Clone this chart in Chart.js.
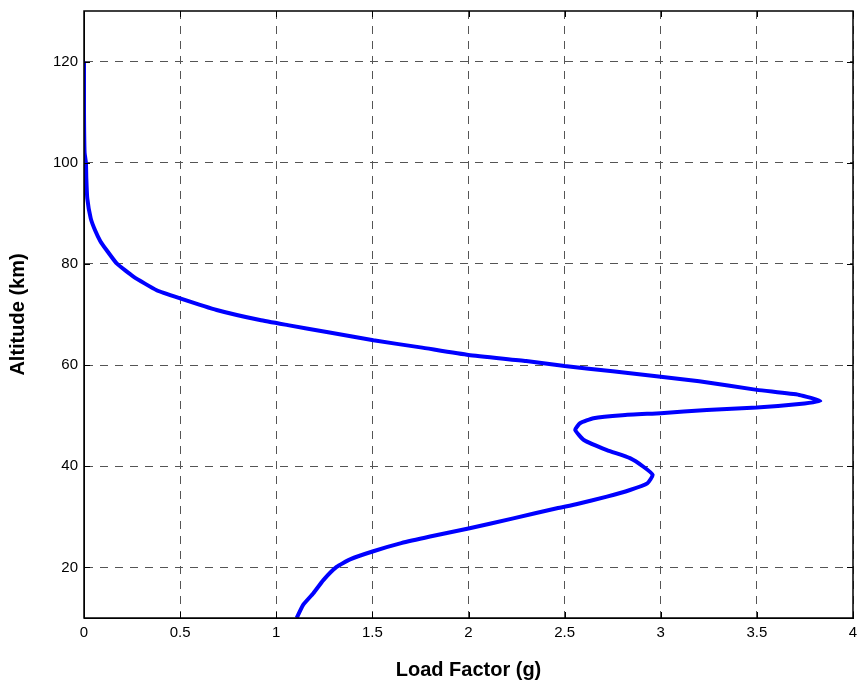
<!DOCTYPE html>
<html>
<head>
<meta charset="utf-8">
<script src="https://cdn.jsdelivr.net/npm/chart.js@4"></script>
<style>
  html, body { margin: 0; padding: 0; background: #fff; }
  #wrap { width: 861px; height: 686px; position: relative; }
</style>
</head>
<body>
<div id="wrap"><canvas id="myChart" width="861" height="686"></canvas></div>
<script>
// altitude profile (km) and matching load factor (g)
var altitude = [120, 110, 102, 100, 97, 93, 89, 86.7, 84.5, 82.7, 80.1, 77.5, 74.8, 73.2, 70.9, 68.9, 67.9, 66.5, 64.9, 63.5,
  62.0, 60.8, 59.8, 58.8, 57.7, 56.8, 55.1, 54.1, 52.9, 52.3, 51.6, 51.1, 50.5, 50.1, 49.5, 48.5, 47.2, 45.2, 43.2, 41.6,
  39.9, 38.3, 36.6, 35.3, 34.0, 32.5, 31.7, 29.7, 27.7, 26.1, 24.8, 23.2, 21.6, 20.1, 17.5, 14.9, 12.6, 10];
var loadFactor = [0, 0, 0.003, 0.01, 0.012, 0.017, 0.035, 0.057, 0.085, 0.118, 0.17, 0.257, 0.378, 0.5, 0.69, 0.915, 1.06, 1.27, 1.505, 1.75,
  2.0, 2.3, 2.5, 2.75, 3.0, 3.2, 3.5, 3.72, 3.83, 3.72, 3.5, 3.24, 3.0, 2.8, 2.65, 2.58, 2.555, 2.6, 2.72, 2.84,
  2.91, 2.958, 2.93, 2.84, 2.72, 2.56, 2.46, 2.233, 2.0, 1.8, 1.65, 1.505, 1.384, 1.314, 1.245, 1.193, 1.14, 1.106];
var xTicks = [0, 0.5, 1, 1.5, 2, 2.5, 3, 3.5, 4];
var yTicks = [20, 40, 60, 80, 100, 120];

var points = [];
for (var i = 0; i < altitude.length; i++) {
  points.push({x: loadFactor[i], y: altitude[i]});
}

// box round the plot plus small inward ticks, like the matlab axes
var boxPlugin = {
  id: 'box',
  afterDraw: function(chart) {
    var ctx = chart.ctx, a = chart.chartArea;
    var xs = chart.scales.x, ys = chart.scales.y;
    ctx.save();
    ctx.strokeStyle = '#000';
    ctx.lineWidth = 1.5;
    ctx.setLineDash([]);
    ctx.strokeRect(a.left, a.top, a.right - a.left, a.bottom - a.top);
    ctx.lineWidth = 1;
    ctx.beginPath();
    xTicks.forEach(function(v) {
      var px = Math.round(xs.getPixelForValue(v)) + 0.5;
      ctx.moveTo(px, a.bottom); ctx.lineTo(px, a.bottom - 6);
      ctx.moveTo(px, a.top); ctx.lineTo(px, a.top + 6);
    });
    yTicks.forEach(function(v) {
      var py = Math.round(ys.getPixelForValue(v)) + 0.5;
      ctx.moveTo(a.left, py); ctx.lineTo(a.left + 6, py);
      ctx.moveTo(a.right, py); ctx.lineTo(a.right - 6, py);
    });
    ctx.stroke();
    ctx.restore();
  }
};

var ctx = document.getElementById('myChart').getContext('2d');
var chart = new Chart(ctx, {
  type: 'scatter',
  data: {
    datasets: [{
      label: 'Load Factor',
      data: points,
      showLine: true,
      borderColor: '#0000ff',
      backgroundColor: '#0000ff',
      borderWidth: 4,
      pointRadius: 0,
      tension: 0.15
    }]
  },
  options: {
    responsive: false,
    animation: false,
    layout: { padding: { left: 0, right: 8, top: 11, bottom: 0 } },
    plugins: { legend: { display: false }, tooltip: { enabled: false } },
    scales: {
      x: {
        type: 'linear',
        min: 0, max: 4,
        afterBuildTicks: function(s) { s.ticks = xTicks.map(function(v) { return {value: v}; }); },
        afterFit: function(s) { s.height = 68; s.paddingLeft = 0; s.paddingRight = 0; },
        grid: { color: '#555', lineWidth: 1, drawTicks: false },
        border: { display: true, color: '#000', dash: [8, 7] },
        ticks: { color: '#000', padding: 6, maxRotation: 0, font: { family: 'Liberation Sans', size: 15 },
                 callback: function(v) { return String(v); } },
        title: { display: true, text: 'Load Factor (g)', color: '#000', padding: { top: 12 },
                 font: { family: 'Liberation Sans', size: 20, weight: 'bold' } }
      },
      y: {
        type: 'linear',
        min: 10, max: 130,
        afterBuildTicks: function(s) { s.ticks = yTicks.map(function(v) { return {value: v}; }); },
        afterFit: function(s) { s.width = 84; s.paddingTop = 0; s.paddingBottom = 0; },
        grid: { color: '#555', lineWidth: 1, drawTicks: false },
        border: { display: true, color: '#000', dash: [8, 7] },
        ticks: { color: '#000', padding: 6, font: { family: 'Liberation Sans', size: 15 } },
        title: { display: true, text: 'Altitude (km)', color: '#000', padding: { top: 6, bottom: 0 },
                 font: { family: 'Liberation Sans', size: 20, weight: 'bold' } }
      }
    }
  },
  plugins: [boxPlugin]
});
</script>
</body>
</html>
